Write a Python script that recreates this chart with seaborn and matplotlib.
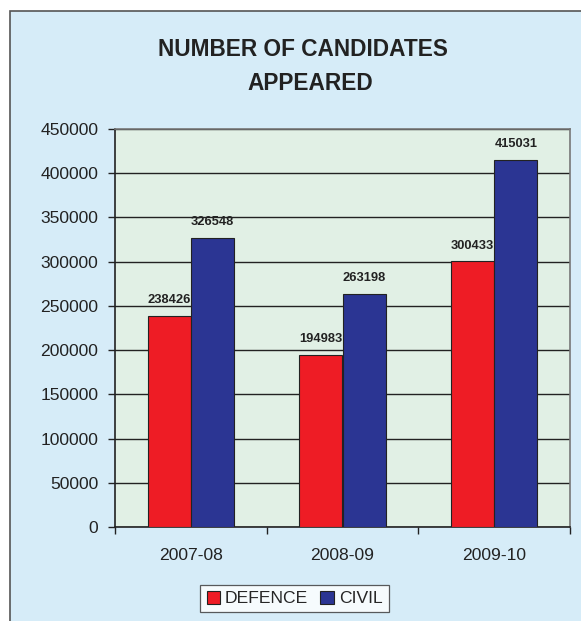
import matplotlib
matplotlib.use("Agg")
import matplotlib.pyplot as plt
from matplotlib.patches import Rectangle
import seaborn as sns
import pandas as pd

years = ["2007-08", "2008-09", "2009-10"]
defence = [238426, 194983, 300433]
civil = [326548, 263198, 415031]
series_names = ["DEFENCE", "CIVIL"]
y_ticks = [0, 50000, 100000, 150000, 200000, 250000, 300000, 350000, 400000, 450000]

df = pd.DataFrame({
    "year": years * 2,
    "count": defence + civil,
    "series": [series_names[0]] * 3 + [series_names[1]] * 3,
})

sns.set_theme(style="white")
plt.rcParams["font.family"] = ["Liberation Sans", "DejaVu Sans"]

W, H = 581, 621
fig = plt.figure(figsize=(W / 100, H / 100), dpi=100)
fig.patch.set_facecolor("white")

# outer panel
panel = Rectangle((10 / W, -0.01), 1.0, 1 - 11 / H + 0.01, transform=fig.transFigure,
                  facecolor="#d6ecf8", edgecolor="#555555", linewidth=1.2, zorder=-5)
fig.patches.append(panel)

ax = fig.add_axes([115 / W, 1 - 527 / H, (570 - 115) / W, (527 - 129) / H])
ax.set_zorder(2)
ax.set_facecolor("#e1f0e5")

sns.barplot(data=df, x="year", y="count", hue="series", ax=ax,
            palette=["#ee1c25", "#2b3593"], width=0.57, saturation=1,
            edgecolor="#222222", linewidth=0.8, zorder=3)

for cont in ax.containers:
    ax.bar_label(cont, labels=[f"{int(v)}" for v in cont.datavalues], padding=7,
                 fontsize=9.3, fontweight="bold", color="#222222")

ax.set_ylim(0, 450000)
ax.set_yticks(y_ticks)
ax.set_yticklabels([str(v) for v in y_ticks], fontsize=12.6, color="#222222")
ax.yaxis.grid(True, color="#222222", linewidth=1.0, zorder=0)
ax.set_axisbelow(True)
ax.set_xlabel("")
ax.set_ylabel("")
ax.set_xlim(-0.5, 2.5)
ax.set_xticks([0, 1, 2])
ax.set_xticklabels(years, fontsize=12.6, color="#222222")
ax.tick_params(axis="x", length=0, pad=15)
ax.tick_params(axis="y", length=5, width=1, color="#222222", left=True, pad=7)
# category boundary ticks below the x axis
ax.set_xticks([-0.5, 0.5, 1.5, 2.5], minor=True)
ax.tick_params(axis="x", which="minor", length=5, width=1, color="#222222", bottom=True, direction="out")

for side in ["top", "right"]:
    ax.spines[side].set_color("#777777")
    ax.spines[side].set_linewidth(1.2)
for side in ["left", "bottom"]:
    ax.spines[side].set_color("#222222")
    ax.spines[side].set_linewidth(1.2)

fig.text(302.5 / W, 1 - 50 / H, "NUMBER OF CANDIDATES", ha="center", va="center",
         fontsize=16.3, fontweight="bold", color="#222222")
fig.text(310.5 / W, 1 - 83 / H, "APPEARED", ha="center", va="center",
         fontsize=16.3, fontweight="bold", color="#222222")

leg = ax.legend(loc="center", bbox_to_anchor=(294.5 / W, 1 - 598.5 / H),
                bbox_transform=fig.transFigure, ncol=2, frameon=True, fontsize=12.6,
                handlelength=0.75, handleheight=0.75, handletextpad=0.3, columnspacing=0.7,
                borderpad=0.35, borderaxespad=0, fancybox=False, edgecolor="#333333")
leg.get_frame().set_facecolor("white")
leg.get_frame().set_linewidth(0.9)

fig.savefig("out.png", dpi=100)
